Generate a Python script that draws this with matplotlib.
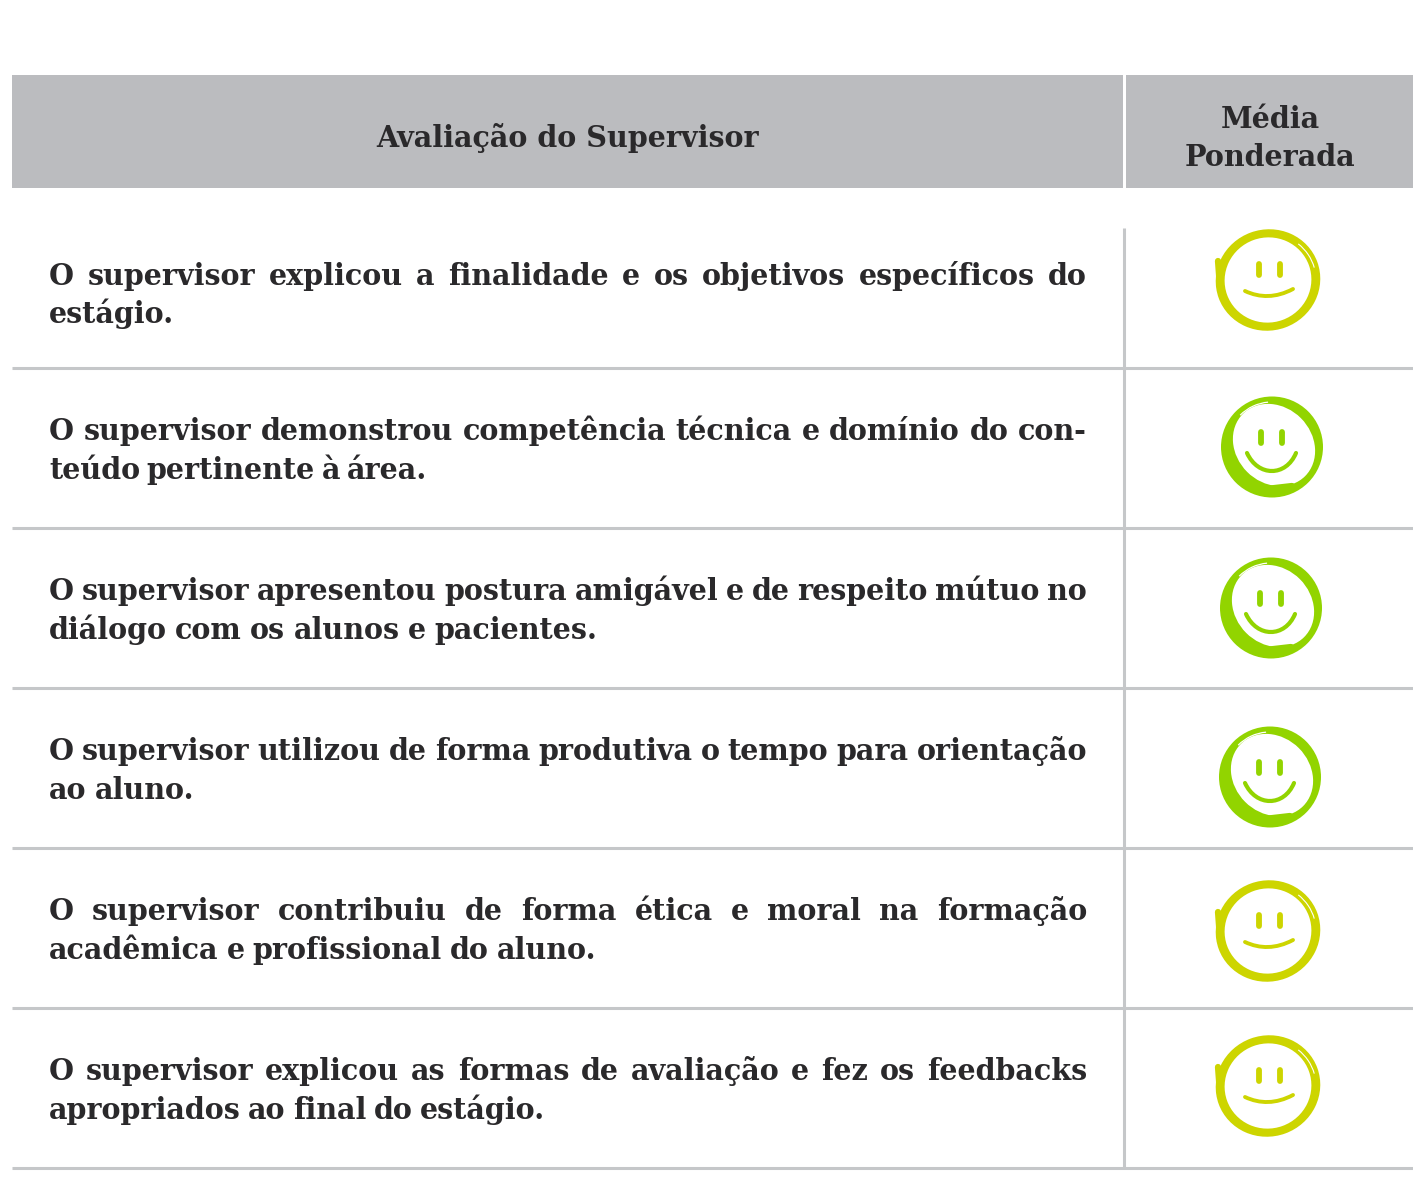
import matplotlib
matplotlib.use('Agg')
import matplotlib.pyplot as plt
from matplotlib.patches import Arc, Ellipse, Rectangle, PathPatch
from matplotlib.path import Path

header_left = 'Avaliação do Supervisor'
header_right = ['Média', 'Ponderada']

line_one = [
    'O supervisor explicou a finalidade e os objetivos específicos do',
    'O supervisor demonstrou competência técnica e domínio do con-',
    'O supervisor apresentou postura amigável e de respeito mútuo no',
    'O supervisor utilizou de forma produtiva o tempo para orientação',
    'O supervisor contribuiu de forma ética e moral na formação',
    'O supervisor explicou as formas de avaliação e fez os feedbacks',
]
line_two = [
    'estágio.',
    'teúdo pertinente à área.',
    'diálogo com os alunos e pacientes.',
    'ao aluno.',
    'acadêmica e profissional do aluno.',
    'apropriados ao final do estágio.',
]
# 0 = satisfeito (amarelo), 1 = muito satisfeito (verde)
ratings = [0, 1, 1, 1, 0, 0]

GREY = '#bbbcbf'
LINE = '#c5c7c9'
INK = '#2a292b'
face_colors = ['#cdd500', '#92d400']
FONT = 'DejaVu Serif'
SIZE = 20.6

# pixel layout of the page
baselines_one = [285, 440, 600, 760, 920, 1080]
baselines_two = [323, 479, 639, 799, 959, 1119]
line_two_end = [169, 427, 597, 195, 596, 545]
rule_y = [368, 528, 688, 848, 1008, 1168]
face_x = [1268, 1272, 1271, 1270, 1268, 1268]
face_y = [280, 447, 608, 777, 931, 1086]

fig = plt.figure(figsize=(14.13, 11.89), dpi=100)
ax = fig.add_axes([0, 0, 1, 1])
ax.set_xlim(0, 1413)
ax.set_ylim(1189, 0)
ax.axis('off')


def justified(s, x0, x1, y):
    # lay the words out one by one so the line fills x0..x1
    r = fig.canvas.get_renderer()
    words = s.split(' ')
    items = [ax.text(0, y, w, family=FONT, weight='bold', fontsize=SIZE, color=INK,
                     va='baseline', ha='left') for w in words]
    widths = [t.get_window_extent(r).width for t in items]
    gap = (x1 - x0 - sum(widths)) / max(len(words) - 1, 1)
    x = x0
    for t, w in zip(items, widths):
        t.set_x(x)
        x += w + gap


def face(cx, cy, kind):
    c = face_colors[kind]
    if kind == 0:
        ax.add_patch(Ellipse((cx, cy), 105, 101, angle=-20, color=c, lw=0, zorder=3))
        ax.add_patch(Ellipse((cx, cy), 87, 85, angle=-20, color='white', lw=0, zorder=4))
        # double stroke on the right and the pen start on the left
        ax.add_patch(Arc((cx, cy), 96, 93, theta1=-50, theta2=-15, color='white', lw=0.8, zorder=5))
        ax.plot([cx - 50, cx - 48], [cy - 19, cy + 8], color=c, lw=4.5, solid_capstyle='round', zorder=3)
        mouth = [(-23, 11), (-8, 18), (8, 18), (25, 9)]
        eyes = [-9, 12]
        ey = (-16, -5)
        lw = 2.8
    else:
        ax.add_patch(Ellipse((cx, cy), 102, 101, color=c, lw=0, zorder=3))
        ax.add_patch(Ellipse((cx + 2, cy - 2), 88, 76, angle=45, color='white', lw=0, zorder=4))
        # highlight left by the pen near the top, tail at the bottom
        ax.add_patch(Arc((cx, cy), 90, 90, theta1=225, theta2=265, color='white', lw=0.9, zorder=5))
        ax.plot([cx - 6, cx + 20], [cy + 42, cy + 39], color=c, lw=4.5, solid_capstyle='round', zorder=5)
        mouth = [(-25, 6), (-14, 30), (14, 30), (24, 6)]
        eyes = [-11, 10]
        ey = (-15, -4)
        lw = 3.0
    for ex in eyes:
        ax.plot([cx + ex, cx + ex], [cy + ey[0], cy + ey[1]], color=c, lw=4.2,
                solid_capstyle='round', zorder=5)
    pts = [(cx + a, cy + b) for a, b in mouth]
    ax.add_patch(PathPatch(Path(pts, [Path.MOVETO, Path.CURVE4, Path.CURVE4, Path.CURVE4]), fc='none',
                           ec=c, lw=lw, capstyle='round', zorder=5))


ax.add_patch(Rectangle((12, 75), 1111, 113, color=GREY, lw=0))
ax.add_patch(Rectangle((1126, 75), 287, 113, color=GREY, lw=0))
ax.text(568, 147, header_left, family=FONT, weight='bold', fontsize=SIZE, color=INK,
        ha='center', va='baseline')
ax.text(1270, 128, header_right[0], family=FONT, weight='bold', fontsize=SIZE, color=INK,
        ha='center', va='baseline')
ax.text(1270, 166, header_right[1], family=FONT, weight='bold', fontsize=SIZE, color=INK,
        ha='center', va='baseline')

ax.plot([1124, 1124], [228, rule_y[-1]], color=LINE, lw=2.2, solid_capstyle='butt')
for y in rule_y:
    ax.plot([12, 1413], [y, y], color=LINE, lw=2.2, solid_capstyle='butt')

for i in range(len(line_one)):
    justified(line_one[i], 49, 1087, baselines_one[i])
    justified(line_two[i], 49, line_two_end[i], baselines_two[i])
    face(face_x[i], face_y[i], ratings[i])

fig.savefig('out.png', dpi=100)
